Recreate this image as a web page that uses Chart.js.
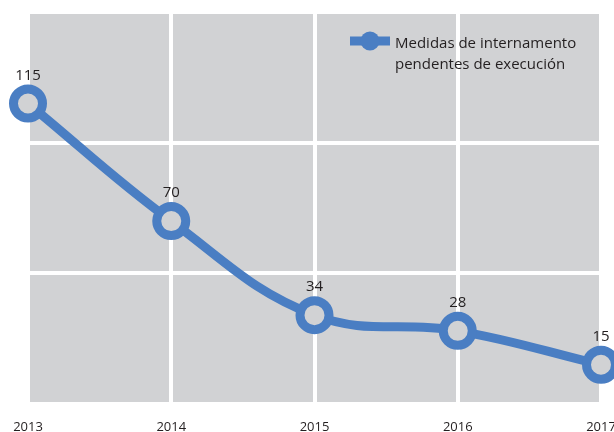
<!DOCTYPE html>
<html>
<head>
<meta charset="utf-8">
<script src="https://cdn.jsdelivr.net/npm/chart.js@4.4.1/dist/chart.umd.min.js"></script>
<style>
  html, body { margin: 0; padding: 0; background: #ffffff; }
  body { width: 614px; height: 432px; overflow: hidden; }
  #wrap { position: relative; width: 640px; height: 432px; }
</style>
</head>
<body>
<div id="wrap"><canvas id="chart" width="640" height="432"></canvas></div>
<script>
// Years on the horizontal axis
const years = ['2013', '2014', '2015', '2016', '2017'];
// Pending internment measures per year
const pendingMeasures = [115, 70, 34, 28, 15];
// Value axis ticks (gridlines only, no labels)
const yTicks = [0, 50, 100, 150];
const seriesLabel = ['Medidas de internamento', 'pendentes de execución'];

const BLUE = '#4a7ec3';
const PLOT_GRAY = '#d1d2d4';
const TEXT = '#231f20';
const FONT = '"Open Sans", "Noto Sans", sans-serif';

// Grey plot background behind the white grid
const plotBackground = {
  id: 'plotBackground',
  beforeDraw(chart) {
    const { ctx, chartArea: a } = chart;
    ctx.save();
    ctx.fillStyle = PLOT_GRAY;
    ctx.fillRect(a.left, a.top, a.right - a.left, a.bottom - a.top);
    ctx.restore();
  }
};

// Value labels above each point
const valueLabels = {
  id: 'valueLabels',
  afterDatasetsDraw(chart) {
    const { ctx } = chart;
    const meta = chart.getDatasetMeta(0);
    const data = chart.data.datasets[0].data;
    ctx.save();
    ctx.font = '15px ' + FONT;
    ctx.fillStyle = TEXT;
    ctx.textAlign = 'center';
    ctx.textBaseline = 'middle';
    meta.data.forEach((pt, i) => {
      ctx.fillText(String(data[i]), pt.x, pt.y - 28);
    });
    ctx.restore();
  }
};

// Legend drawn inside the plot, top right
const insideLegend = {
  id: 'insideLegend',
  afterDraw(chart) {
    const { ctx } = chart;
    const x0 = 350, x1 = 390, y = 41;
    ctx.save();
    ctx.strokeStyle = BLUE;
    ctx.lineWidth = 9;
    ctx.beginPath();
    ctx.moveTo(x0, y);
    ctx.lineTo(x1, y);
    ctx.stroke();
    ctx.fillStyle = BLUE;
    ctx.beginPath();
    ctx.arc((x0 + x1) / 2, y, 9.5, 0, Math.PI * 2);
    ctx.fill();
    ctx.font = '15px ' + FONT;
    ctx.fillStyle = TEXT;
    ctx.textAlign = 'left';
    ctx.textBaseline = 'middle';
    ctx.fillText(seriesLabel[0], 395, 44);
    ctx.fillText(seriesLabel[1], 395, 65);
    ctx.restore();
  }
};

new Chart(document.getElementById('chart'), {
  type: 'line',
  data: {
    labels: years,
    datasets: [{
      label: seriesLabel.join(' '),
      data: pendingMeasures,
      borderColor: BLUE,
      borderWidth: 9,
      tension: 0.4,
      pointRadius: 14.5,
      pointHoverRadius: 14.5,
      pointBorderWidth: 9,
      pointBorderColor: BLUE,
      pointBackgroundColor: PLOT_GRAY,
      clip: false
    }]
  },
  options: {
    responsive: false,
    animation: false,
    layout: { autoPadding: false, padding: { left: 28, right: 39, top: 12, bottom: -5 } },
    plugins: {
      legend: { display: false },
      tooltip: { enabled: false }
    },
    scales: {
      x: {
        grid: {
          color: '#ffffff',
          lineWidth: 4,
          drawTicks: true,
          tickLength: 14,
          tickColor: 'rgba(0,0,0,0)'
        },
        border: { display: false },
        ticks: {
          color: TEXT,
          font: { family: FONT, size: 13, lineHeight: 1 },
          padding: 3,
          maxRotation: 0
        }
      },
      y: {
        min: yTicks[0],
        max: yTicks[yTicks.length - 1],
        afterBuildTicks(scale) {
          scale.ticks = yTicks.map(v => ({ value: v }));
        },
        grid: { color: '#ffffff', lineWidth: 4, drawTicks: false },
        border: { display: false },
        ticks: { display: false }
      }
    }
  },
  plugins: [plotBackground, valueLabels, insideLegend]
});
</script>
</body>
</html>
